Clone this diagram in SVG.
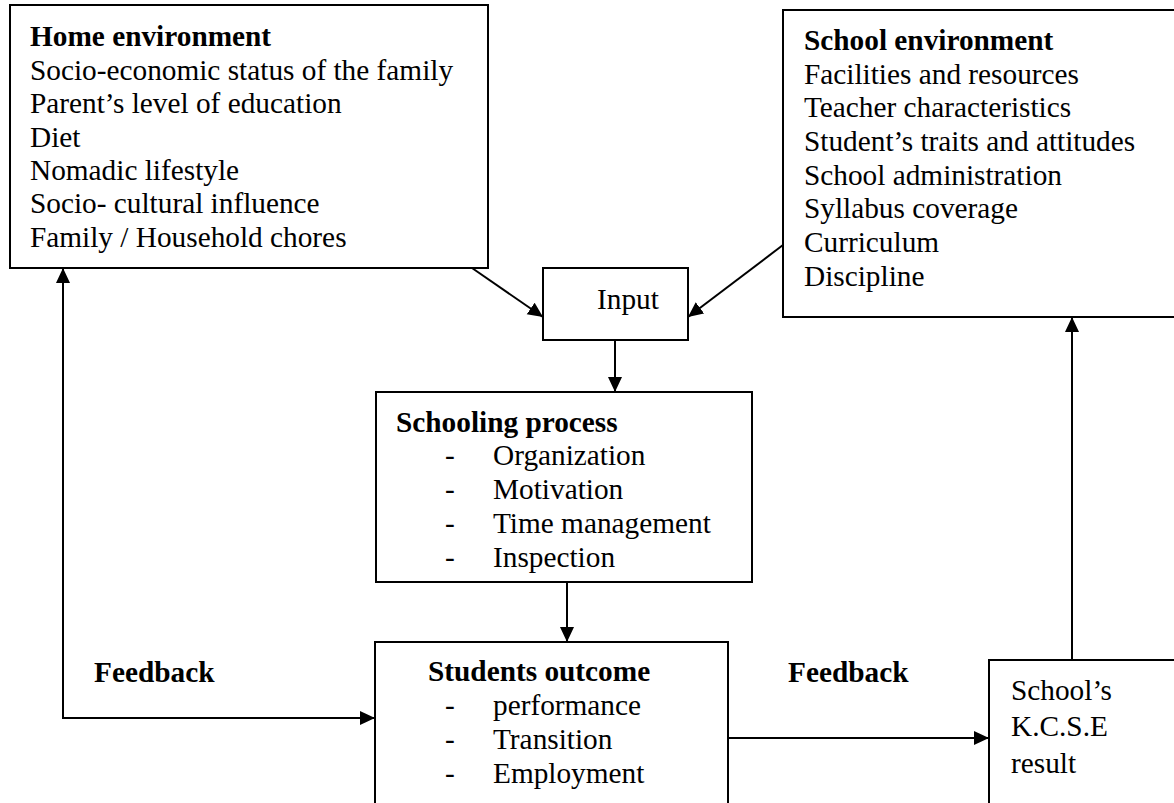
<svg xmlns="http://www.w3.org/2000/svg" width="1174" height="803" viewBox="0 0 1174 803">
<style>
  .box { fill: #fff; stroke: #000; stroke-width: 2; }
  .t { font-family: "Liberation Serif", "Times New Roman", serif; font-size: 29.3px; fill: #000; }
  .b { font-weight: bold; }
  .c { fill: none; stroke: #000; stroke-width: 2; }
</style>
<defs>
  <marker id="ah" markerUnits="userSpaceOnUse" markerWidth="16" markerHeight="15" refX="15" refY="7" orient="auto-start-reverse">
    <path d="M0,0 L15,7 L0,14 z" fill="#000"/>
  </marker>
</defs>
<rect width="1174" height="803" fill="#fff"/>

<g id="home">
  <rect class="box" x="10" y="5" width="478" height="263"/>
  <text class="t b" x="30" y="46">Home environment</text>
  <text class="t" x="30" y="80">Socio-economic status of the family</text>
  <text class="t" x="30" y="113">Parent’s level of education</text>
  <text class="t" x="30" y="147">Diet</text>
  <text class="t" x="30" y="180">Nomadic lifestyle</text>
  <text class="t" x="30" y="213">Socio- cultural influence</text>
  <text class="t" x="30" y="247">Family / Household chores</text>
</g>

<g id="school">
  <rect class="box" x="783" y="10" width="400" height="307"/>
  <text class="t b" x="804" y="50">School environment</text>
  <text class="t" x="804" y="84">Facilities and resources</text>
  <text class="t" x="804" y="117">Teacher characteristics</text>
  <text class="t" x="804" y="151">Student’s traits and attitudes</text>
  <text class="t" x="804" y="185">School administration</text>
  <text class="t" x="804" y="218">Syllabus coverage</text>
  <text class="t" x="804" y="252">Curriculum</text>
  <text class="t" x="804" y="286">Discipline</text>
</g>

<g id="input">
  <rect class="box" x="543" y="268" width="145" height="72"/>
  <text class="t" x="597" y="309">Input</text>
</g>

<g id="schooling">
  <rect class="box" x="376" y="392" width="376" height="190"/>
  <text class="t b" x="396" y="432">Schooling process</text>
  <text class="t" x="445" y="465">-</text>
  <text class="t" x="493" y="465">Organization</text>
  <text class="t" x="445" y="499">-</text>
  <text class="t" x="493" y="499">Motivation</text>
  <text class="t" x="445" y="533">-</text>
  <text class="t" x="493" y="533">Time management</text>
  <text class="t" x="445" y="567">-</text>
  <text class="t" x="493" y="567">Inspection</text>
</g>

<g id="outcome">
  <rect class="box" x="375" y="642" width="353" height="180"/>
  <text class="t b" x="428" y="681">Students outcome</text>
  <text class="t" x="445" y="715">-</text>
  <text class="t" x="493" y="715">performance</text>
  <text class="t" x="445" y="749">-</text>
  <text class="t" x="493" y="749">Transition</text>
  <text class="t" x="445" y="783">-</text>
  <text class="t" x="493" y="783">Employment</text>
</g>

<g id="kcse">
  <rect class="box" x="989" y="660" width="200" height="160"/>
  <text class="t" x="1011" y="700">School’s</text>
  <text class="t" x="1011" y="736">K.C.S.E</text>
  <text class="t" x="1011" y="773">result</text>
</g>

<g id="labels">
  <text class="t b" x="94" y="682">Feedback</text>
  <text class="t b" x="788" y="682">Feedback</text>
</g>

<g id="connectors">
  <path class="c" d="M472,268 L543,317" marker-end="url(#ah)"/>
  <path class="c" d="M783,245 L688,317" marker-end="url(#ah)"/>
  <path class="c" d="M615,340 L615,392" marker-end="url(#ah)"/>
  <path class="c" d="M567,582 L567,642" marker-end="url(#ah)"/>
  <path class="c" d="M63,268 L63,718 L375,718" marker-start="url(#ah)" marker-end="url(#ah)"/>
  <path class="c" d="M728,738 L989,738" marker-end="url(#ah)"/>
  <path class="c" d="M1072,660 L1072,317" marker-end="url(#ah)"/>
</g>
</svg>
